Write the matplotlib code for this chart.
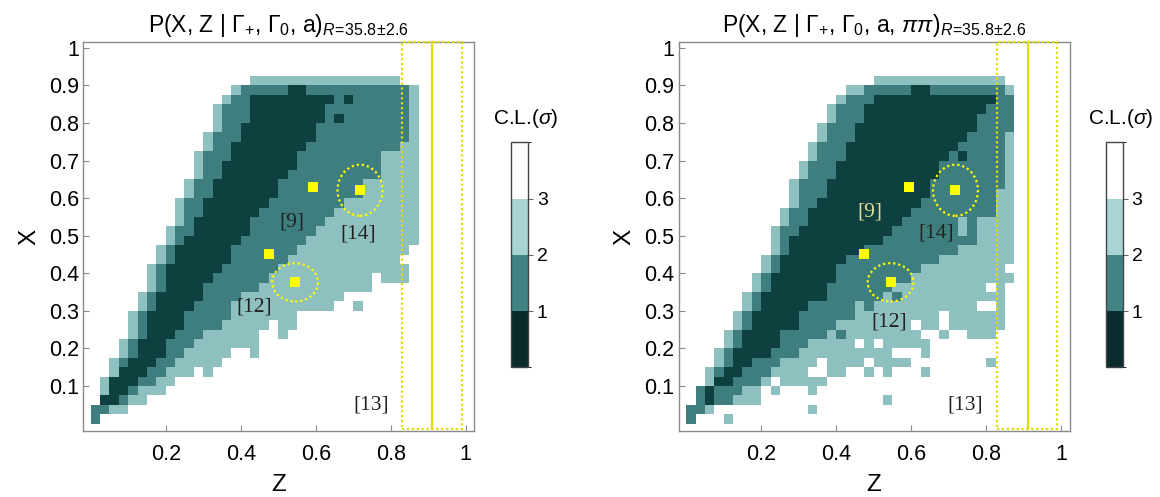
import numpy as np
import matplotlib
matplotlib.use("Agg")
import matplotlib.pyplot as plt
from matplotlib.colors import ListedColormap, BoundaryNorm
from matplotlib.patches import Rectangle, Ellipse
import matplotlib.colorbar as mcolorbar

plt.rcParams['font.family'] = ['Liberation Sans', 'DejaVu Sans']
plt.rcParams['mathtext.fontset'] = 'custom'
plt.rcParams['mathtext.rm'] = 'Liberation Sans'
plt.rcParams['mathtext.it'] = 'Liberation Sans:italic'
plt.rcParams['mathtext.bf'] = 'Liberation Sans:bold'

# ---------------- data ----------------
# grid: 40 x 40 cells of width 0.025 in Z and X
z_edges = np.linspace(0.0, 1.0, 41)
x_edges = np.linspace(0.0, 1.0, 41)

# shade code per cell: 3 = C.L. < 1 sigma, 2 = 1-2 sigma, 1 = 2-3 sigma, (absent) = > 3 sigma
# each row (index of X cell) -> list of (first Z cell, last Z cell, shade)
left_rows = {
    36: [(17, 32, 1)],
    35: [(15, 15, 1), (16, 20, 2), (21, 22, 3), (23, 33, 2), (34, 34, 1)],
    34: [(14, 14, 1), (15, 16, 2), (17, 25, 3), (26, 26, 2), (27, 27, 3), (28, 33, 2), (34, 34, 1)],
    33: [(13, 13, 1), (14, 16, 2), (17, 24, 3), (25, 33, 2), (34, 34, 1)],
    32: [(13, 13, 1), (14, 16, 2), (17, 24, 3), (25, 25, 2), (26, 26, 3), (27, 33, 2), (34, 34, 1)],
    31: [(13, 13, 1), (14, 15, 2), (16, 23, 3), (24, 33, 2), (34, 34, 1)],
    30: [(12, 12, 1), (13, 15, 2), (16, 23, 3), (24, 33, 2), (34, 34, 1)],
    29: [(12, 12, 1), (13, 14, 2), (15, 22, 3), (23, 32, 2), (33, 34, 1)],
    28: [(11, 11, 1), (12, 14, 2), (15, 21, 3), (22, 30, 2), (31, 34, 1)],
    27: [(11, 11, 1), (12, 13, 2), (14, 21, 3), (22, 30, 2), (31, 34, 1)],
    26: [(11, 11, 1), (12, 13, 2), (14, 20, 3), (21, 30, 2), (31, 34, 1)],
    25: [(10, 10, 1), (11, 12, 2), (13, 19, 3), (20, 28, 2), (29, 34, 1)],
    24: [(10, 10, 1), (11, 12, 2), (13, 19, 3), (20, 28, 2), (29, 34, 1)],
    23: [(9, 9, 1), (10, 11, 2), (12, 18, 3), (19, 26, 2), (27, 34, 1)],
    22: [(9, 9, 1), (10, 11, 2), (12, 17, 3), (18, 25, 2), (26, 34, 1)],
    21: [(9, 9, 1), (10, 10, 2), (11, 16, 3), (17, 24, 2), (25, 34, 1)],
    20: [(8, 8, 1), (9, 10, 2), (11, 16, 3), (17, 23, 2), (24, 34, 1)],
    19: [(8, 8, 1), (9, 9, 2), (10, 15, 3), (16, 22, 2), (23, 34, 1)],
    18: [(7, 7, 1), (8, 8, 2), (9, 14, 3), (15, 21, 2), (22, 33, 1)],
    17: [(7, 7, 1), (8, 8, 2), (9, 14, 3), (15, 20, 2), (21, 32, 1)],
    16: [(6, 6, 1), (7, 7, 2), (8, 13, 3), (14, 19, 2), (20, 33, 1)],
    15: [(6, 6, 1), (7, 7, 2), (8, 12, 3), (13, 18, 2), (19, 29, 1), (31, 33, 1)],
    14: [(6, 6, 1), (7, 7, 2), (8, 11, 3), (12, 17, 2), (18, 29, 1)],
    13: [(5, 5, 1), (6, 6, 2), (7, 11, 3), (12, 15, 2), (16, 26, 1)],
    12: [(5, 5, 1), (6, 6, 2), (7, 10, 3), (11, 14, 2), (15, 25, 1), (28, 28, 1)],
    11: [(4, 4, 1), (5, 5, 2), (6, 9, 3), (10, 14, 2), (15, 21, 1)],
    10: [(4, 4, 1), (5, 5, 2), (6, 9, 3), (10, 13, 2), (14, 18, 1), (20, 21, 1)],
    9:  [(4, 4, 1), (5, 5, 2), (6, 8, 3), (9, 11, 2), (12, 17, 1), (20, 20, 1)],
    8:  [(3, 3, 1), (4, 4, 2), (5, 7, 3), (8, 10, 2), (11, 17, 1)],
    7:  [(3, 3, 1), (4, 4, 2), (5, 7, 3), (8, 9, 2), (10, 14, 1), (17, 17, 1)],
    6:  [(2, 2, 1), (3, 3, 2), (4, 6, 3), (7, 8, 2), (9, 13, 1)],
    5:  [(2, 2, 1), (3, 5, 3), (6, 7, 2), (8, 10, 1), (12, 12, 1)],
    4:  [(1, 1, 1), (2, 4, 3), (5, 6, 2), (7, 8, 1)],
    3:  [(1, 1, 1), (2, 3, 3), (4, 4, 2), (5, 7, 1)],
    2:  [(1, 2, 3), (3, 3, 2), (4, 5, 1)],
    1:  [(0, 1, 2), (2, 3, 1)],
    0:  [(0, 0, 2)],
}

right_rows = {
    36: [(20, 33, 1)],
    35: [(17, 18, 1), (19, 23, 2), (24, 25, 3), (26, 33, 2), (34, 34, 1)],
    34: [(16, 16, 1), (17, 19, 2), (20, 32, 3), (33, 34, 2)],
    33: [(15, 15, 1), (16, 18, 2), (19, 31, 3), (32, 34, 2)],
    32: [(15, 15, 1), (16, 18, 2), (19, 30, 3), (31, 34, 2)],
    31: [(14, 14, 1), (15, 17, 2), (18, 30, 3), (31, 34, 2)],
    30: [(14, 14, 1), (15, 17, 2), (18, 29, 3), (30, 33, 2), (34, 34, 1)],
    29: [(13, 13, 1), (14, 16, 2), (17, 28, 3), (29, 33, 2), (34, 34, 1)],
    28: [(13, 13, 1), (14, 16, 2), (17, 27, 3), (28, 28, 2), (29, 29, 3), (30, 33, 2), (34, 34, 1)],
    27: [(12, 12, 1), (13, 15, 2), (16, 26, 3), (27, 33, 2), (34, 34, 1)],
    26: [(12, 12, 1), (13, 15, 2), (16, 26, 3), (27, 33, 2), (34, 34, 1)],
    25: [(11, 11, 1), (12, 14, 2), (15, 25, 3), (26, 33, 2), (34, 34, 1)],
    24: [(11, 11, 1), (12, 14, 2), (15, 25, 3), (26, 32, 2), (33, 34, 1)],
    23: [(11, 11, 1), (12, 13, 2), (14, 24, 3), (25, 32, 2), (33, 34, 1)],
    22: [(10, 10, 1), (11, 12, 2), (13, 23, 3), (24, 32, 2), (33, 34, 1)],
    21: [(10, 10, 1), (11, 12, 2), (13, 22, 3), (23, 28, 2), (29, 29, 1), (30, 30, 2), (31, 34, 1)],
    20: [(9, 9, 1), (10, 11, 2), (12, 21, 3), (22, 28, 2), (29, 29, 1), (30, 30, 2), (31, 34, 1)],
    19: [(9, 9, 1), (10, 10, 2), (11, 20, 3), (21, 30, 2), (31, 34, 1)],
    18: [(9, 9, 1), (10, 10, 2), (11, 18, 3), (19, 28, 2), (29, 34, 1)],
    17: [(8, 8, 1), (9, 9, 2), (10, 16, 3), (17, 26, 2), (27, 34, 1)],
    16: [(8, 8, 1), (9, 9, 2), (10, 15, 3), (16, 24, 2), (25, 33, 1)],
    15: [(7, 7, 1), (8, 8, 2), (9, 15, 3), (16, 23, 2), (24, 34, 1)],
    14: [(7, 7, 1), (8, 8, 2), (9, 14, 3), (15, 21, 2), (22, 31, 1), (33, 33, 1)],
    13: [(6, 6, 1), (7, 7, 2), (8, 14, 3), (15, 20, 2), (21, 21, 1), (22, 22, 2), (23, 33, 1)],
    12: [(6, 6, 1), (7, 7, 2), (8, 12, 3), (13, 17, 2), (18, 18, 1), (19, 19, 2), (20, 30, 1), (33, 33, 1)],
    11: [(5, 5, 1), (6, 6, 2), (7, 11, 3), (12, 17, 2), (18, 26, 1), (28, 33, 1)],
    10: [(5, 5, 1), (6, 6, 2), (7, 11, 3), (12, 15, 2), (16, 23, 1), (25, 26, 1), (28, 33, 1)],
    9:  [(4, 4, 1), (5, 5, 2), (6, 9, 3), (10, 14, 2), (15, 15, 1), (16, 16, 2), (17, 24, 1), (27, 27, 1), (30, 32, 1)],
    8:  [(4, 4, 1), (5, 5, 2), (6, 9, 3), (10, 12, 2), (13, 17, 1), (19, 19, 1), (21, 25, 1)],
    7:  [(3, 3, 1), (4, 4, 2), (5, 8, 3), (9, 11, 2), (12, 21, 1), (25, 25, 1)],
    6:  [(3, 3, 1), (4, 4, 2), (5, 6, 3), (7, 9, 2), (10, 13, 1), (15, 18, 1), (20, 23, 1), (32, 32, 1)],
    5:  [(2, 2, 1), (3, 3, 2), (4, 5, 3), (6, 8, 2), (9, 12, 1), (15, 16, 1), (19, 19, 1), (21, 21, 1), (25, 25, 1)],
    4:  [(2, 2, 1), (3, 4, 3), (5, 7, 2), (8, 8, 1), (10, 14, 1)],
    3:  [(1, 1, 2), (2, 2, 3), (3, 5, 2), (6, 7, 1), (9, 9, 1), (13, 13, 1)],
    2:  [(1, 1, 2), (2, 2, 3), (3, 4, 2), (5, 7, 1), (21, 21, 1)],
    1:  [(0, 1, 2), (2, 2, 1), (13, 13, 1)],
    0:  [(0, 0, 2), (4, 4, 1)],
}

# yellow points (Z, X)
pts_z = [0.593, 0.718, 0.475, 0.545]
pts_x = [0.629, 0.621, 0.451, 0.376]

# dotted ellipses: (Z centre, X centre, width, height)
circ_z = [0.718, 0.545]
circ_x = [0.621, 0.376]
circ_w = [0.120, 0.122]
circ_h = [0.136, 0.102]

# yellow box (Z range) and solid line
box_z = [0.83, 0.99]
line_z = 0.911

titles = [r'P(X, Z | $\Gamma_{+}$, $\Gamma_{0}$, a)$_{R\!=\!35.8\!\pm\!2.6}$',
          r'P(X, Z | $\Gamma_{+}$, $\Gamma_{0}$, a, $\pi\pi$)$_{R\!=\!35.8\!\pm\!2.6}$']

# reference labels: text, Z, X for each panel
lab_left = [('[9]', 0.537, 0.536), ('[14]', 0.714, 0.505), ('[12]', 0.436, 0.311), ('[13]', 0.747, 0.049)]
lab_right = [('[9]', 0.491, 0.563), ('[14]', 0.667, 0.506), ('[12]', 0.542, 0.271), ('[13]', 0.745, 0.049)]

# ---------------- style ----------------
map_colors = ['#8fc0c0', '#3e7e7e', '#0f4040']
cb_colors = ['#0a2c2c', '#428383', '#a9d4d4', '#ffffff']
yellow = '#ffff00'
yline = '#dede00'
frame = '#8a8a8a'


def build(rows):
    g = np.zeros((len(x_edges) - 1, len(z_edges) - 1))
    for r, segs in rows.items():
        for a, b, v in segs:
            g[r, a:b + 1] = v
    return np.ma.masked_equal(g, 0)


fig = plt.figure(figsize=(11.6, 4.97), dpi=100)
W, H = 1160.0, 497.0

panels = [
    dict(rows=left_rows, ax=(83, 42, 391, 389), cb=(510.7, 142.3, 17, 225), labs=lab_left,
         labcol=['#222222'] * 4, title=titles[0], cbl=(526, 119)),
    dict(rows=right_rows, ax=(678.5, 42, 391, 389), cb=(1105.5, 142.3, 17, 225), labs=lab_right,
         labcol=['#e3dc98', '#222222', '#222222', '#222222'], title=titles[1], cbl=(1121, 119)),
]

cmap = ListedColormap(map_colors)
norm = BoundaryNorm([0.5, 1.5, 2.5, 3.5], 3)

for p in panels:
    x0, y0, w, h = p['ax']
    ax = fig.add_axes([x0 / W, 1 - (y0 + h) / H, w / W, h / H])
    ax.pcolormesh(z_edges, x_edges, build(p['rows']), cmap=cmap, norm=norm,
                  edgecolors='none', antialiased=False)
    ax.set_xlim(-0.0205, 1.022)
    ax.set_ylim(-0.0197, 1.0157)

    # yellow box and line
    ax.add_patch(Rectangle((box_z[0], -0.015), box_z[1] - box_z[0], 1.03, fill=False,
                           edgecolor=yline, linewidth=1.6, linestyle=(0, (1, 1.2)), clip_on=False, zorder=5))
    ax.plot([line_z, line_z], [-0.015, 1.015], color=yline, linewidth=1.6, zorder=5, clip_on=False)

    # ellipses
    for cz, cx, cw, ch in zip(circ_z, circ_x, circ_w, circ_h):
        ax.add_patch(Ellipse((cz, cx), cw, ch, fill=False, edgecolor=yellow, linewidth=1.6,
                             linestyle=(0, (1, 1.3)), zorder=6))
    ax.plot(pts_z, pts_x, linestyle='none', marker='s', markersize=7.5, color=yellow,
            markeredgewidth=0, zorder=7)

    for (t, lz, lx), c in zip(p['labs'], p['labcol']):
        ax.text(lz, lx, t, ha='center', va='center', fontsize=15.5, color=c,
                family=['Liberation Serif', 'DejaVu Serif'], zorder=8)

    ax.set_xticks([0.2, 0.4, 0.6, 0.8, 1.0])
    ax.set_xticklabels(['0.2', '0.4', '0.6', '0.8', '1'])
    ax.set_yticks([0.1, 0.2, 0.3, 0.4, 0.5, 0.6, 0.7, 0.8, 0.9, 1.0])
    ax.set_yticklabels(['0.1', '0.2', '0.3', '0.4', '0.5', '0.6', '0.7', '0.8', '0.9', '1'])
    ax.tick_params(axis='both', direction='in', length=4, width=0.8, color=frame, labelsize=15.5)
    ax.tick_params(axis='x', pad=9)
    ax.tick_params(axis='y', pad=3)
    for s in ax.spines.values():
        s.set_color(frame)
        s.set_linewidth(1.0)
    ax.set_xlabel('Z', fontsize=17.5, labelpad=7)
    ax.set_ylabel('X', fontsize=17.5, labelpad=6)
    ax.set_title(p['title'], fontsize=16.5, pad=7)

    # colorbar
    cx0, cy0, cw, ch = p['cb']
    cax = fig.add_axes([cx0 / W, 1 - (cy0 + ch) / H, cw / W, ch / H])
    cb = mcolorbar.ColorbarBase(cax, cmap=ListedColormap(cb_colors),
                                norm=BoundaryNorm([0, 1, 2, 3, 4], 4), ticks=[1, 2, 3],
                                orientation='vertical')
    cb.outline.set_edgecolor('#444444')
    cb.outline.set_linewidth(1.0)
    cax.tick_params(direction='out', length=3.5, width=0.8, color='#666666', labelsize=14, pad=3)
    fig.text(p['cbl'][0] / W, 1 - p['cbl'][1] / H, r'C.L.($\sigma$)', ha='center', va='center', fontsize=15)

fig.savefig('out.png', dpi=100)
